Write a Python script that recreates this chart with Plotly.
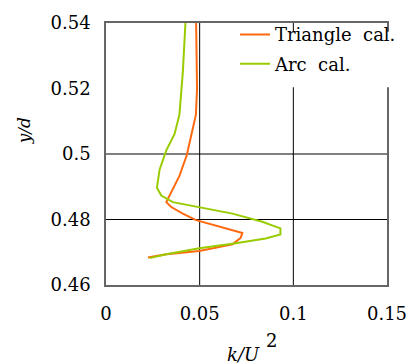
import plotly.graph_objects as go

# Triangle cal. (orange)
tri_x = [0.0481, 0.0486, 0.0480, 0.0445, 0.0431, 0.0392, 0.0348, 0.0322, 0.0348, 0.0410,
         0.0481, 0.0587, 0.0728, 0.0719, 0.0675, 0.0498, 0.0322, 0.0224]
tri_y = [0.540, 0.520, 0.512, 0.5031, 0.4996, 0.4933, 0.4883, 0.4853, 0.4838, 0.4818,
         0.4798, 0.4781, 0.4759, 0.4744, 0.4724, 0.4704, 0.4694, 0.4684]

# Arc cal. (green)
arc_x = [0.0424, 0.0410, 0.0392, 0.0366, 0.0322, 0.0286, 0.0272, 0.0295, 0.0357, 0.0498,
         0.0675, 0.0834, 0.0931, 0.0931, 0.0852, 0.0675, 0.0498, 0.0322, 0.0233]
arc_y = [0.540, 0.5249, 0.512, 0.5061, 0.5011, 0.4952, 0.4897, 0.4873, 0.4853, 0.4838,
         0.4818, 0.4793, 0.4773, 0.4754, 0.4742, 0.4726, 0.4712, 0.4694, 0.4682]

x_ticks = [0, 0.05, 0.1, 0.15]
x_tick_labels = ["0", "0.05", "0.1", "0.15"]
y_ticks = [0.46, 0.48, 0.5, 0.52, 0.54]
y_tick_labels = ["0.46", "0.48", "0.5", "0.52", "0.54"]
x_grid = [0.05, 0.1]
y_grid = [0.48, 0.5]

FONT = "DejaVu Serif"

fig = go.Figure()
fig.add_trace(go.Scatter(x=tri_x, y=tri_y, mode="lines", name="Triangle\u00a0 cal.",
                         line=dict(color="#ff6a10", width=2), legendgroup="a"))
fig.add_trace(go.Scatter(x=arc_x, y=arc_y, mode="lines", name="Arc\u00a0 cal.",
                         line=dict(color="#99cc00", width=2), legendgroup="b"))

shapes = []
for gx in x_grid:
    shapes.append(dict(type="line", xref="x", yref="y", x0=gx, x1=gx, y0=0.46, y1=0.54,
                       line=dict(color="black", width=1), layer="below"))
for gy in y_grid:
    shapes.append(dict(type="line", xref="x", yref="y", x0=0, x1=0.15, y0=gy, y1=gy,
                       line=dict(color="black", width=1), layer="below"))
# white legend background box (covers frame / grid behind the legend)
shapes.append(dict(type="rect", xref="paper", yref="paper", x0=0.459, x1=1.095,
                   y0=0.755, y1=0.9665, fillcolor="white", line=dict(width=0),
                   layer="above"))

fig.update_layout(
    width=419, height=364,
    margin=dict(l=106, r=30, t=16, b=79),
    paper_bgcolor="white", plot_bgcolor="white",
    font=dict(family=FONT, size=18, color="black"),
    showlegend=True,
    legend=dict(x=0.459, y=1.026, xanchor="left", yanchor="top",
                bgcolor="rgba(0,0,0,0)", borderwidth=0, tracegroupgap=3,
                font=dict(family=FONT, size=18, color="black")),
    shapes=shapes,
    xaxis=dict(range=[0, 0.15], tickvals=x_ticks, ticktext=x_tick_labels,
               showgrid=False, zeroline=False, showline=True, linecolor="#666",
               linewidth=1.5, mirror=True, ticks="outside", ticklen=12,
               tickcolor="rgba(0,0,0,0)", tickfont=dict(size=18)),
    yaxis=dict(range=[0.46, 0.54], tickvals=y_ticks, ticktext=y_tick_labels,
               showgrid=False, zeroline=False, showline=True, linecolor="#666",
               linewidth=1.5, mirror=True, ticks="outside", ticklen=10,
               tickcolor="rgba(0,0,0,0)", tickfont=dict(size=18)),
    annotations=[
        dict(text="<i>k/U</i>", xref="paper", yref="paper", x=0.4876, y=-0.264,
             xanchor="center", yanchor="middle", showarrow=False, font=dict(size=18)),
        dict(text="2", xref="paper", yref="paper", x=0.59, y=-0.212,
             xanchor="center", yanchor="middle", showarrow=False, font=dict(size=18)),
        dict(text="<i>y/d</i>", xref="paper", yref="paper", x=-0.292, y=0.59,
             xanchor="center", yanchor="middle", showarrow=False, textangle=-90,
             font=dict(size=17)),
    ],
)

fig.write_html("out.html", config={"displayModeBar": False},
               post_script="document.body.style.margin='0';document.body.style.overflow='hidden';")
